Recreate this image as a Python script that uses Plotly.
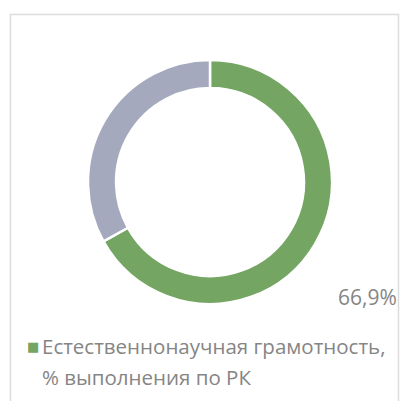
import plotly.graph_objects as go

# Share of tasks completed (percent) and the remainder
slice_labels = ["Естественнонаучная грамотность, % выполнения по РК", "Остальное"]
slice_values = [66.9, 33.1]
slice_colors = ["#74a563", "#a5a9bd"]
legend_lines = ["Естественнонаучная грамотность,", "% выполнения по РК"]

W, H = 400, 401

fig = go.Figure(
    go.Pie(
        labels=slice_labels,
        values=slice_values,
        hole=0.77,
        sort=False,
        direction="clockwise",
        rotation=0,
        marker=dict(colors=slice_colors, line=dict(color="white", width=2.5)),
        textinfo="none",
        showlegend=False,
        domain=dict(x=[88 / W, 332 / W], y=[(H - 304) / H, (H - 60) / H]),
    )
)

value_text = f"{slice_values[0]:.1f}".replace(".", ",") + "%"
font_family = "Open Sans"
text_color = "#858585"

fig.add_annotation(
    x=399 / W, y=(H - 297) / H, xref="paper", yref="paper",
    xanchor="right", yanchor="middle", showarrow=False,
    text=value_text,
    font=dict(family=font_family, size=21, color=text_color),
)

fig.add_annotation(
    x=25 / W, y=(H - 346) / H, xref="paper", yref="paper",
    xanchor="left", yanchor="middle", showarrow=False,
    text=f"<span style='color:{slice_colors[0]}'>■</span>",
    font=dict(family="DejaVu Sans", size=13),
)

for i, line in enumerate(legend_lines):
    fig.add_annotation(
        x=40 / W, y=(H - 346 - 31 * i) / H, xref="paper", yref="paper",
        xanchor="left", yanchor="middle", showarrow=False,
        text=line,
        font=dict(family=font_family, size=20.5, color=text_color),
    )

# Light frame around the chart area
fig.add_shape(
    type="rect", xref="paper", yref="paper",
    x0=10.5 / W, x1=398.5 / W, y0=-0.05, y1=(H - 14.5) / H,
    line=dict(color="#dcdcdc", width=1.5),
)

fig.update_layout(
    width=W, height=H,
    margin=dict(l=0, r=0, t=0, b=0),
    paper_bgcolor="white",
    plot_bgcolor="white",
)

fig.write_html("out.html")
